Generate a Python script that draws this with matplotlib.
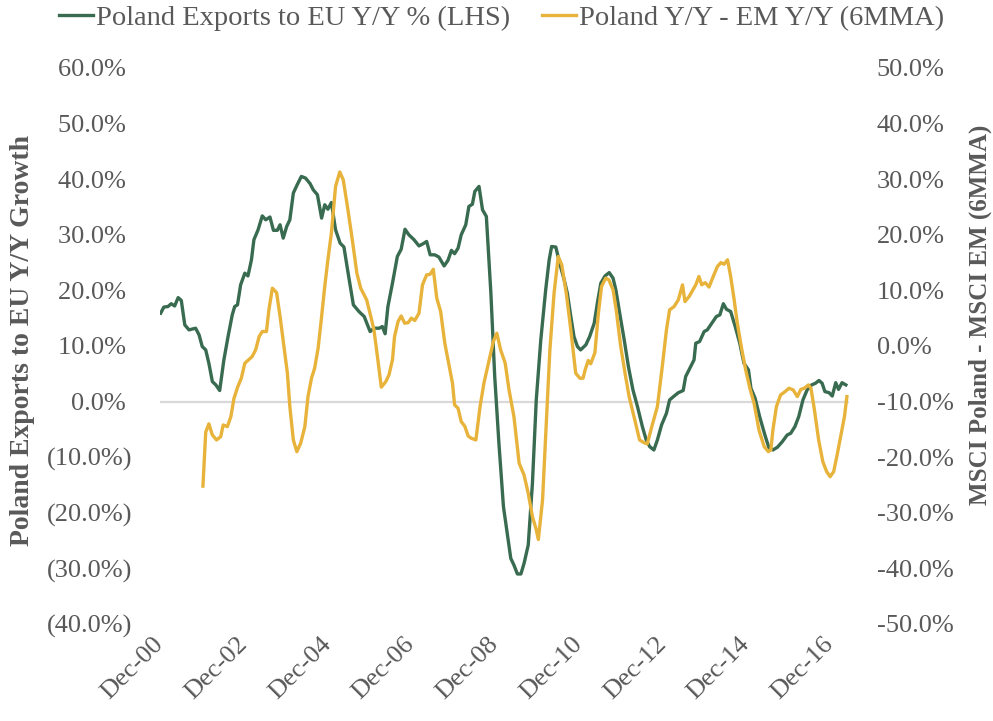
import matplotlib
matplotlib.use("Agg")
import matplotlib.pyplot as plt
from matplotlib.ticker import FixedLocator, FuncFormatter

# ── Data (months since Dec-00) ───────────────────────────────────────────────
exports_months = [
    0.2, 1.1, 2.3, 3.2, 4.2, 5.2, 6.1, 7.1, 8.3, 10.2, 11.2, 12.1, 13.1, 14.0,
    15.0, 16.0, 17.1, 18.3, 19.5, 20.7, 21.4, 22.2, 23.1, 24.3, 25.2, 26.2,
    26.9, 28.1, 29.3, 30.3, 31.5, 32.5, 33.6, 34.4, 35.3, 36.3, 37.2, 38.2,
    39.3, 40.5, 41.7, 43.0, 43.9, 45.1, 46.3, 47.2, 48.1, 49.1, 50.3, 51.6,
    52.7, 53.9, 55.4, 57.0, 58.5, 60.2, 61.3, 62.8, 63.7, 64.5, 65.3, 66.6,
    68.0, 69.1, 70.2, 71.3, 72.8, 74.2, 75.4, 76.4, 77.4, 78.7, 79.9, 81.4,
    82.5, 83.5, 84.4, 85.4, 86.3, 87.6, 88.5, 89.5, 90.2, 91.4, 92.4, 93.5,
    94.8, 95.9, 97.1, 98.4, 100.5, 101.4, 102.4, 103.4, 104.3, 105.5, 106.7,
    107.8, 109.1, 110.5, 111.5, 112.2, 113.4, 114.5, 115.8, 116.7, 117.7,
    118.6, 119.6, 120.5, 122.0, 123.1, 124.4, 125.3, 126.3, 127.5, 128.7,
    129.8, 130.6, 131.7, 133.0, 134.2, 135.5, 136.8, 138.2, 139.3, 140.3,
    141.5, 142.5, 143.7, 145.1, 146.0, 147.3, 148.5, 149.9, 150.6, 151.8,
    153.0, 153.5, 154.6, 155.9, 156.8, 158.1, 159.4, 160.4, 161.4, 162.3,
    163.5, 164.8, 166.1, 167.3, 168.6, 169.3, 170.5, 171.8, 173.3, 174.5,
    175.6, 176.9, 178.3, 179.7, 180.7, 181.9, 183.0, 184.2, 185.4, 186.7,
    187.8, 188.8, 189.7, 190.5, 191.7, 192.6, 193.6, 194.4, 195.4, 196.5,
]
exports_yy = [
    15.9, 17.0, 17.1, 17.6, 17.2, 18.7, 18.2, 13.8, 12.9, 13.2, 12.0, 9.9, 9.3,
    6.9, 3.6, 3.0, 2.0, 7.5, 11.7, 15.6, 17.1, 17.4, 21.0, 23.1, 22.6, 25.5,
    29.1, 30.9, 33.4, 32.7, 33.2, 30.8, 30.8, 31.8, 29.4, 31.5, 32.7, 37.5,
    39.0, 40.5, 40.2, 39.2, 38.1, 37.2, 33.0, 35.4, 34.6, 35.8, 30.9, 28.5,
    27.8, 23.1, 17.4, 16.2, 15.3, 12.6, 13.2, 13.2, 13.5, 12.2, 17.1, 21.3,
    26.1, 27.4, 31.0, 30.0, 29.1, 28.0, 28.4, 28.8, 26.4, 26.4, 26.0, 24.4,
    25.4, 27.2, 26.6, 27.6, 30.0, 31.8, 35.1, 35.5, 37.8, 38.7, 34.5, 33.3,
    19.5, 4.5, -7.5, -18.9, -28.2, -29.4, -31.0, -31.0, -29.1, -25.8, -14.7,
    0.3, 11.1, 20.1, 25.5, 27.9, 27.8, 24.9, 21.9, 19.5, 15.3,
    11.7, 9.9, 9.3, 10.2, 11.7, 14.1, 17.7, 21.3, 22.6, 23.2,
    22.2, 20.1, 15.9, 11.1, 6.3, 2.1, -0.9, -4.5, -6.9, -8.1,
    -8.7, -6.9, -4.2, -2.1, 0.3, 1.0, 1.6, 2.0, 4.5, 6.0,
    7.5, 10.5, 10.8, 12.6, 12.9, 14.1, 15.3, 15.6, 17.6, 16.6,
    16.2, 13.5, 10.5, 6.9, 5.7, 2.4, 0.6, -2.7, -6.0, -8.4,
    -8.7, -8.2, -7.2, -6.0, -5.7, -4.5, -2.7, 0.3, 2.1, 3.0,
    3.3, 3.8, 3.3, 1.8, 1.6, 1.0, 3.4, 2.2, 3.4, 3.0,
]

spread_months = [
    12.3, 13.1, 14.0, 15.0, 16.2, 17.4, 18.1, 19.3, 20.3, 21.2, 22.3, 23.3,
    24.3, 25.5, 26.4, 27.4, 28.4, 29.3, 30.5, 31.2, 32.2, 33.4, 34.4, 35.5,
    36.5, 37.2, 38.2, 39.2, 40.3, 41.5, 42.4, 43.4, 44.3, 45.3, 46.2, 47.2,
    48.1, 49.1, 50.3, 51.5, 52.5, 53.7, 55.1, 56.4, 57.5, 59.2, 60.4, 61.3,
    62.3, 63.4, 64.7, 65.6, 66.6, 67.2, 68.2, 69.1, 70.1, 71.1, 72.0, 73.0,
    74.2, 75.2, 76.4, 77.4, 78.3, 79.3, 80.4, 81.6, 82.8, 83.8, 84.4, 85.4,
    86.3, 87.3, 88.3, 89.2, 90.5, 91.7, 92.8, 94.3, 95.5, 96.5, 97.6, 98.9,
    100.0, 101.4, 102.9, 104.3, 105.5, 106.7, 107.7, 108.4, 109.6, 110.5,
    111.7, 112.9, 114.1, 115.1, 116.4, 117.7, 119.1, 120.3, 121.2, 121.8,
    122.7, 123.4, 124.6, 125.6, 126.5, 127.7, 128.6, 129.8, 130.7, 132.0,
    133.4, 134.4, 135.8, 137.4, 138.7, 139.6, 140.9, 142.5, 143.9, 145.1,
    146.0, 147.3, 148.5, 149.7, 150.4, 151.6, 152.7, 153.5, 154.4, 155.2,
    156.2, 157.3, 158.5, 159.7, 160.7, 161.6, 162.6, 163.5, 164.5, 165.4,
    166.7, 167.8, 169.0, 170.2, 171.6, 173.1, 174.3, 175.0, 175.6, 176.6,
    177.8, 179.1, 180.2, 181.4, 182.6, 183.6, 184.6, 185.8, 186.5, 187.5,
    188.7, 189.9, 191.0, 192.0, 193.0, 193.9, 195.2, 196.1, 196.8,
]
spread_6mma = [
    -25.2, -15.5, -14.0, -16.0, -16.9, -16.3, -14.2, -14.5, -12.7, -9.4, -7.3,
    -5.8, -3.1, -2.4, -1.9, -0.7, 1.7, 2.6, 2.6, 6.5, 10.4, 9.6, 5.3, -0.1,
    -4.9, -10.9, -16.9, -19.0, -17.5, -14.5, -9.1, -5.8, -4.0, -0.4, 4.7, 10.7,
    15.5, 20.3, 28.7, 31.3, 29.9, 25.1, 19.1, 13.1, 10.4, 8.3, 5.3, 2.9,
    -1.9, -7.4, -6.4, -5.2, -2.5, 1.7, 4.4, 5.4, 4.1, 4.2, 5.0, 4.6,
    5.9, 11.0, 12.8, 12.9, 13.8, 8.6, 6.2, 0.5, -3.4, -6.7, -10.6, -11.2,
    -13.6, -14.4, -16.2, -16.6, -16.9, -10.9, -6.7, -2.5, 0.8, 2.3, -0.7, -3.1,
    -7.9, -12.7, -21.1, -23.2, -26.5, -30.7, -32.8, -34.8, -27.7, -16.3,
    -0.7, 9.5, 16.1, 14.6, 9.5, 2.9, -4.9, -5.8, -5.8, -4.3,
    -2.6, -3.2, -1.2, 5.9, 10.7, 12.2, 11.9, 10.1, 6.5, -0.1,
    -5.5, -9.1, -12.7, -16.9, -17.4, -17.6, -14.5, -10.9, -3.7, 2.9,
    6.5, 7.1, 8.3, 11.0, 8.0, 8.9, 10.1, 11.0, 12.5, 11.0,
    11.4, 10.6, 12.5, 14.3, 15.0, 14.7, 15.5, 12.5, 8.3, 4.1,
    -0.7, -4.3, -7.6, -10.3, -15.1, -18.1, -19.0, -18.7, -15.1, -10.9,
    -8.8, -8.2, -7.6, -7.9, -9.1, -7.8, -7.6, -7.0, -7.6, -11.5,
    -16.9, -20.8, -22.6, -23.5, -22.6, -19.9, -15.7, -12.7, -9.1,
]

tick_months = [0, 24, 48, 72, 96, 120, 144, 168, 192]
tick_labels = ["Dec-00", "Dec-02", "Dec-04", "Dec-06", "Dec-08",
               "Dec-10", "Dec-12", "Dec-14", "Dec-16"]

GREEN = "#386b50"
GOLD = "#e8b33a"
GREY_TXT = "#595959"

plt.rcParams["font.family"] = ["Liberation Serif", "DejaVu Serif"]

fig = plt.figure(figsize=(9.93, 7.21), dpi=100)
ax = fig.add_axes([160 / 993, 1 - 624 / 721, 689 / 993, 556 / 721])
ax2 = ax.twinx()

ax.axhline(0, color="#d9d9d9", lw=1.6, zorder=1)
l1, = ax.plot(exports_months, exports_yy, color=GREEN, lw=2.4, zorder=3,
              label="Poland Exports to EU Y/Y % (LHS)")
l2, = ax2.plot(spread_months, spread_6mma, color=GOLD, lw=2.4, zorder=3,
               label="Poland Y/Y - EM Y/Y (6MMA)")

ax.set_xlim(0, 197.4)
ax.set_ylim(-40, 60)
ax2.set_ylim(-50, 50)

ax.yaxis.set_major_locator(FixedLocator(range(-40, 61, 10)))
ax2.yaxis.set_major_locator(FixedLocator(range(-50, 51, 10)))


def left_fmt(v, pos):
    if v < 0:
        return f"({abs(v):.1f}%)"
    return f"{v:.1f}%\u2008"


ax.yaxis.set_major_formatter(FuncFormatter(left_fmt))
ax2.yaxis.set_major_formatter(FuncFormatter(lambda v, p: f"{v:.1f}%"))

ax.set_xticks(tick_months)
ax.set_xticklabels(tick_labels, rotation=45, ha="right", va="center",
                   rotation_mode="anchor")

for a in (ax, ax2):
    for s in a.spines.values():
        s.set_visible(False)
    a.tick_params(length=0, labelsize=19, colors=GREY_TXT)
ax.tick_params(axis="y", pad=20)
ax2.tick_params(axis="y", pad=20)
ax.tick_params(axis="x", pad=12)

ax.set_ylabel("Poland Exports to EU Y/Y Growth", fontsize=20,
              fontweight="bold", color=GREY_TXT)
ax.yaxis.set_label_coords(-125 / 689, 0.51)
ax2.set_ylabel("MSCI Poland - MSCI EM (6MMA)", fontsize=18,
               fontweight="bold", color=GREY_TXT, rotation=90)
ax2.yaxis.set_label_coords(1 + 120 / 689, 0.556)

fig.legend(handles=[l1, l2], loc="center", bbox_to_anchor=(0.505, 1 - 18 / 721),
           ncol=2, frameon=False, fontsize=20.5, labelcolor=GREY_TXT,
           handlelength=1.2, handletextpad=0.1, columnspacing=1.1)

fig.savefig("out.png", dpi=100)
